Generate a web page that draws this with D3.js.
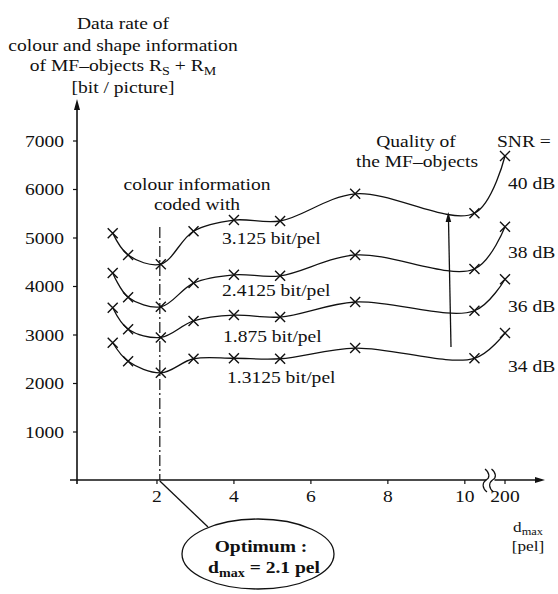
<!DOCTYPE html>
<html>
<head>
<meta charset="utf-8">
<script src="https://cdn.jsdelivr.net/npm/d3@7"></script>
<style>
  html, body { margin: 0; padding: 0; background: #fff; }
  svg text { font-family: "Liberation Serif", "Times New Roman", serif; fill: #111; }
</style>
</head>
<body>
<script>
// Maximum displacement d_max (pel); the last value sits past the axis break
const dmax = [0.85, 1.25, 2.1, 2.95, 4.0, 5.2, 7.15, 10.25, 200];

// Data rate R_S + R_M (bit/picture), one series per colour coding rate / SNR
const rate40 = [5090, 4640, 4450, 5130, 5360, 5340, 5900, 5500, 6680];
const rate38 = [4270, 3770, 3570, 4060, 4230, 4210, 4640, 4350, 5220];
const rate36 = [3550, 3110, 2940, 3280, 3400, 3360, 3670, 3490, 4140];
const rate34 = [2830, 2450, 2210, 2500, 2510, 2500, 2720, 2510, 3030];

const bitRates = ["3.125 bit/pel", "2.4125 bit/pel", "1.875 bit/pel", "1.3125 bit/pel"];
const snrLabels = ["40 dB", "38 dB", "36 dB", "34 dB"];

const xTicks = [2, 4, 6, 8, 10, 200];
const yTicks = [1000, 2000, 3000, 4000, 5000, 6000, 7000];
const optimum = 2.1;

const titleLines = [
  "Data rate of",
  "colour and shape information",
  "of MF\u2013objects R_{S} + R_{M}",
  "[bit / picture]"
];

const W = 558, H = 594;
const SX = 1.15; // horizontal glyph stretch of the typeface

const svg = d3.select("body").append("svg")
  .attr("width", W).attr("height", H)
  .attr("viewBox", `0 0 ${W} ${H}`);
svg.append("rect").attr("width", W).attr("height", H).attr("fill", "#fff");

// Broken x axis: linear up to 10.55, then a short stretch to 200
const x = d3.scaleLinear().domain([0, 10.55, 200]).range([80, 486, 505]);
const y = d3.scaleLinear().domain([0, 7000]).range([480, 140.5]);

// Text helper: "_{...}" marks a subscript
function txt(px, py, anchor, str, size = 17, bold = false) {
  const t = svg.append("text")
    .attr("transform", `translate(${px},${py}) scale(${SX},1)`)
    .attr("text-anchor", anchor)
    .style("font-size", size + "px")
    .style("font-weight", bold ? "bold" : "normal");
  const re = /_\{([^}]*)\}/g;
  const shift = size * 0.22;
  let last = 0, m, shifted = false;
  while ((m = re.exec(str)) !== null) {
    if (m.index > last) {
      t.append("tspan").attr("dy", shifted ? -shift : 0).text(str.slice(last, m.index));
      shifted = false;
    }
    t.append("tspan").attr("dy", shift).style("font-size", (size * 0.72) + "px").text(m[1]);
    shifted = true;
    last = re.lastIndex;
  }
  if (last < str.length) {
    t.append("tspan").attr("dy", shifted ? -shift : 0).text(str.slice(last));
  }
  return t;
}

// Title block
const titleY = [29, 51, 71, 93];
titleLines.forEach((s, i) => txt(123, titleY[i], "middle", s));

// y axis
const yAxis = svg.append("g").attr("transform", `translate(${x(0) - 3},0)`)
  .call(d3.axisLeft(y).tickValues(yTicks).tickSize(4).tickPadding(9).tickFormat(d3.format("d")));
yAxis.select(".domain").remove();
yAxis.selectAll(".tick line").attr("stroke", "#111").attr("stroke-width", 1.2);
yAxis.selectAll(".tick text")
  .attr("x", -13 / SX).attr("dy", "0.34em")
  .attr("transform", `scale(${SX},1)`)
  .style("font-size", "17px").attr("fill", "#111");
const yx = x(0) - 3;
svg.append("line").attr("x1", yx).attr("x2", yx).attr("y1", 484).attr("y2", 106)
  .attr("stroke", "#111").attr("stroke-width", 1.6);
svg.append("path").attr("d", `M${yx},99L${yx - 3},110L${yx + 3},110Z`).attr("fill", "#111");

// x axis
const xAxis = svg.append("g").attr("transform", `translate(0,${y(0)})`)
  .call(d3.axisBottom(x).tickValues(xTicks).tickSize(4).tickPadding(6));
xAxis.select(".domain").remove();
xAxis.selectAll(".tick line").attr("stroke", "#111").attr("stroke-width", 1.2);
xAxis.selectAll(".tick text")
  .attr("transform", `scale(${SX},1)`)
  .attr("x", 0)
  .style("font-size", "17px").attr("fill", "#111");
xAxis.selectAll(".tick").attr("transform", d => `translate(${x(d)},0)`);
svg.append("line").attr("x1", 70).attr("x2", 538).attr("y1", y(0)).attr("y2", y(0))
  .attr("stroke", "#111").attr("stroke-width", 1.3);
svg.append("path").attr("d", `M545,${y(0)}L535,${y(0) - 3}L535,${y(0) + 3}Z`).attr("fill", "#111");

// axis break
const bx = (x(10.55) + x(200)) / 2 - 8;
svg.append("rect").attr("x", bx - 1).attr("y", y(0) - 3).attr("width", 8).attr("height", 6).attr("fill", "#fff");
[bx - 1.5, bx + 5].forEach(cx => {
  svg.append("path")
    .attr("d", `M${cx - 1},${y(0) - 11} C${cx + 4},${y(0) - 7} ${cx + 4},${y(0) - 2} ${cx},${y(0)} C${cx - 4},${y(0) + 3} ${cx - 4},${y(0) + 8} ${cx + 1},${y(0) + 12}`)
    .attr("fill", "none").attr("stroke", "#111").attr("stroke-width", 1.2);
});

// x axis title
txt(528, 532, "middle", "d_{max}", 15);
txt(528, 551, "middle", "[pel]", 15);

// curves
const series = [rate40, rate38, rate36, rate34];
const line = d3.line().x(d => x(d[0])).y(d => y(d[1])).curve(d3.curveCatmullRom.alpha(0.5));
series.forEach(vals => {
  const pts = dmax.map((d, i) => [d, vals[i]]);
  svg.append("path").attr("d", line(pts))
    .attr("fill", "none").attr("stroke", "#111").attr("stroke-width", 1.3);
  svg.selectAll(null).data(pts).enter().append("path")
    .attr("transform", d => `translate(${x(d[0])},${y(d[1])})`)
    .attr("d", "M-5,-5L5,5M-5,5L5,-5")
    .attr("stroke", "#111").attr("stroke-width", 1.4).attr("fill", "none");
});

// optimum marker line
const ox = x(optimum) - 1;
svg.append("line").attr("x1", ox).attr("x2", ox).attr("y1", 227).attr("y2", y(0))
  .attr("stroke", "#111").attr("stroke-width", 1.2).attr("stroke-dasharray", "11,3,2,3");
svg.append("line").attr("x1", ox).attr("y1", y(0) + 1).attr("x2", 208).attr("y2", 527)
  .attr("stroke", "#111").attr("stroke-width", 1.3);
svg.append("ellipse").attr("cx", 258).attr("cy", 554).attr("rx", 76).attr("ry", 35)
  .attr("fill", "none").attr("stroke", "#111").attr("stroke-width", 1.3);
txt(261, 552, "middle", "Optimum :", 17, true);
txt(264, 573, "middle", "d_{max} = 2.1 pel", 17, true);

// annotations
txt(197, 190, "middle", "colour information");
txt(197, 210, "middle", "coded with");
const rateLabelPos = [[222, 244], [222, 296], [223, 342], [227, 383]];
bitRates.forEach((s, i) => txt(rateLabelPos[i][0], rateLabelPos[i][1], "start", s));

txt(416, 147, "middle", "Quality of");
txt(417, 167, "middle", "the MF\u2013objects");
txt(497, 147, "start", "SNR =");
const snrY = [189, 258, 312, 372];
snrLabels.forEach((s, i) => txt(508, snrY[i], "start", s));

// quality arrow
svg.append("line").attr("x1", 451).attr("y1", 347).attr("x2", 448.5).attr("y2", 220)
  .attr("stroke", "#111").attr("stroke-width", 1.3);
svg.append("path").attr("d", "M448.3,212L445.6,222L451.2,222Z").attr("fill", "#111");
</script>
</body>
</html>
